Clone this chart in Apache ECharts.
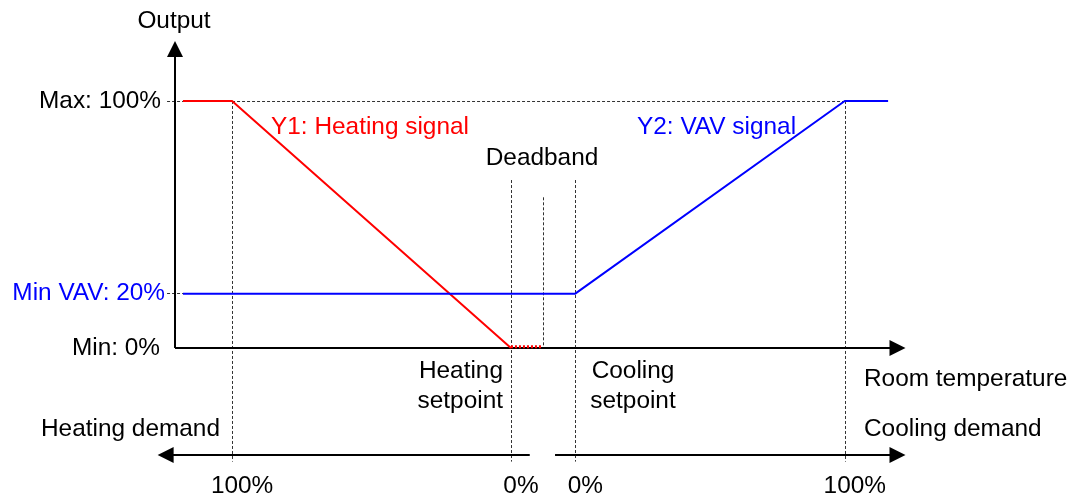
<!DOCTYPE html>
<html>
<head>
<meta charset="utf-8">
<script src="https://cdn.jsdelivr.net/npm/echarts@6/dist/echarts.min.js"></script>
<style>html,body{margin:0;background:#fff}#main{width:1070px;height:497px}</style>
</head>
<body>
<div id="main"></div>
<script>
// x: room temperature (0 = output axis), y: output in %
var heatingSignal = [[1.1, 100], [7.9, 100], [46.5, 0]];
var heatingDeadband = [[46.5, 0.5], [50.9, 0.5]];
var vavSignal = [[1.1, 22], [55.4, 22], [92.7, 100], [98.7, 100]];

// dotted vertical guides and the demand labels under them
var guideX = [7.9, 46.5, 50.9, 55.4, 92.7];
var guideTop = [100, 68, 61, 68, 100];
var guideBottom = [-46, -46, 0, -46, -46];
var demandLabels = ['100%', '0%', '', '0%', '100%'];

// output levels on the vertical axis
var outputLevels = [100, 22, 0];
var outputLabels = ['Max: 100%', 'Min VAV: 20%', 'Min: 0%'];
var outputColors = ['#000', '#0000ff', '#000'];
var guideEnd = [92.7, 1.1];

var demandY = -43.3;
var font = 'Liberation Sans, Arial, sans-serif';
var fs = 24.4;

var myChart = echarts.init(document.getElementById('main'));

var guideLines = [];
for (var i = 0; i < guideX.length; i++) {
    guideLines.push([
        { coord: [guideX[i], guideTop[i]] },
        {
            coord: [guideX[i], guideBottom[i]],
            label: {
                show: demandLabels[i] !== '',
                position: 'end',
                distance: 13,
                formatter: demandLabels[i],
                padding: [0, 0, 0, 20]
            }
        }
    ]);
}
for (var j = 0; j < 2; j++) {
    guideLines.push([
        {
            coord: [-1.1, outputLevels[j]],
            label: {
                show: true,
                position: 'start',
                distance: j === 0 ? 6 : 2,
                formatter: outputLabels[j],
                color: outputColors[j]
            }
        },
        { coord: [guideEnd[j], outputLevels[j]] }
    ]);
}

var axisLines = [
    [{ coord: [0, 0] }, { coord: [0, 121] }],
    [
        { coord: [0, 0], label: { show: true, position: 'start', distance: 15, formatter: outputLabels[2] } },
        { coord: [100, 0] }
    ],
    [{ coord: [49.1, demandY] }, { coord: [-1.3, demandY] }],
    [{ coord: [52.6, demandY] }, { coord: [100, demandY] }]
];

function txt(x, y, s, color, align, lh) {
    var style = { text: s, font: fs + 'px ' + font, fill: color, textAlign: align, textVerticalAlign: 'middle' };
    if (lh) style.lineHeight = lh;
    return { type: 'text', x: x, y: y, style: style };
}

option = {
    animation: false,
    grid: { left: 146.1, right: 172.5, top: 49.1, bottom: 25.5 },
    xAxis: { type: 'value', min: -4, max: 100, show: false },
    yAxis: { type: 'value', min: -50, max: 121, show: false },
    graphic: [
        txt(174, 21, 'Output', '#000', 'center'),
        txt(271, 127, 'Y1: Heating signal', '#ff0000', 'left'),
        txt(637, 127, 'Y2: VAV signal', '#0000ff', 'left'),
        txt(542, 158, 'Deadband', '#000', 'center'),
        txt(503, 386, 'Heating\nsetpoint', '#000', 'right', 30),
        txt(633, 386, 'Cooling\nsetpoint', '#000', 'center', 30),
        txt(864, 379, 'Room temperature', '#000', 'left'),
        txt(41, 429, 'Heating demand', '#000', 'left'),
        txt(864, 429, 'Cooling demand', '#000', 'left')
    ],
    series: [
        {
            name: 'guides',
            type: 'line',
            data: [],
            z: 1,
            markLine: {
                silent: true,
                z: 1,
                symbol: 'none',
                lineStyle: { type: [3, 2], color: '#333', width: 1 },
                label: { fontFamily: font, fontSize: fs, color: '#000' },
                emphasis: { disabled: true },
                data: guideLines
            }
        },
        {
            name: 'axes',
            type: 'line',
            data: [],
            z: 2,
            markLine: {
                silent: true,
                z: 2,
                symbol: ['none', 'triangle'],
                symbolSize: 16,
                lineStyle: { type: 'solid', color: '#000', width: 2 },
                itemStyle: { color: '#000' },
                label: { show: false, fontFamily: font, fontSize: fs, color: '#000' },
                emphasis: { disabled: true },
                data: axisLines
            }
        },
        {
            name: 'Y1: Heating signal',
            type: 'line',
            data: heatingSignal,
            symbol: 'none',
            z: 10,
            lineStyle: { color: '#ff0000', width: 2 }
        },
        {
            name: 'Y1 deadband',
            type: 'line',
            data: heatingDeadband,
            symbol: 'none',
            z: 10,
            lineStyle: { color: '#ff0000', width: 3, type: [2, 2] }
        },
        {
            name: 'Y2: VAV signal',
            type: 'line',
            data: vavSignal,
            symbol: 'none',
            z: 10,
            lineStyle: { color: '#0000ff', width: 2 }
        }
    ]
};

myChart.setOption(option);
</script>
</body>
</html>
